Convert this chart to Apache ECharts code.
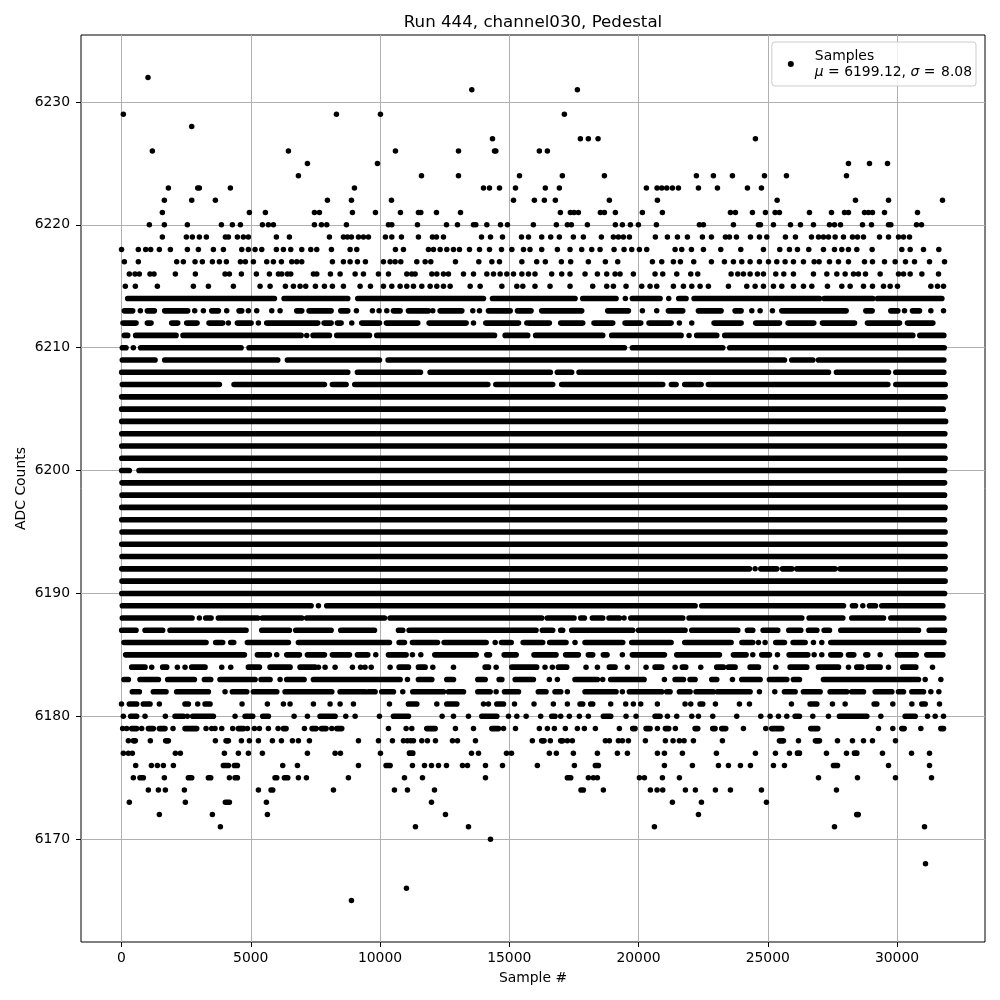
<!DOCTYPE html>
<html><head><meta charset="utf-8">
<style>html,body{margin:0;padding:0;background:#fff}#c{width:1000px;height:1000px}</style>
<script src="https://cdn.jsdelivr.net/npm/echarts@6/dist/echarts.min.js"></script>
</head><body><div id="c"></div>
<script>
// Each level lists samples: a number is one dot, a pair is an unbroken run of dots.
const L6232=[1025];
const L6231=[13551,17635];
const L6229=[71,8314,10017,17132];
const L6228=[2716];
const L6227=[14351,17751,18060,18435,24523];
const L6226=[1193,6457,10597,13036,14430,14480,16164,16474];
const L6225=[7192,9901,28122,28935,29632];
const L6224=[6844,11604,13036,15396,17054,18680,22240,22898,23633,24872,25723,28045];
const L6223=[1813,2948,3012,4212,9011,14003,14235,14622,15241,16396,16938,20305,20718,20899,21092,21311,21544,22318,23053,24214,24756];
const L6222=[1658,2716,3631,7966,8895,10443,15164,15971,16358,16783,18873,20731,25362,28393,29671,31760];
const L6221=[1580,4947,5566,7463,7656,8933,9823,10791,11487,11578,12184,13113,16977,17364,17506,17674,18525,18680,19105,20150,20924,23556,23749,24407,24910,25285,25452,26613,27465,27968,28122,28742,28897,29051,29516,30793];
const L6220=[1077,1658,2548,3864,4289,4599,5450,5682,5876,7463,7734,7940,8701,10327,10456,11449,12571,12997,13616,13706,14132,14661,14932,15932,16822,17248,17403,18022,19105,19376,19686,19996,20692,22356,22511,23672,24640,24717,25220,25878,26265,26768,27387,27581,27813,28664,29013,29671,29761,30754,30948];
const L6219=[1580,2509,2741,3012,3283,4018,4135,4483,4715,4908,5992,6495,8043,8585,8740,8895,9166,9359,9553,10210,10456,10830,11487,12029,12184,12455,13926,14274,14738,15474,15745,16255,16603,16938,17480,17867,18564,19028,19222,19415,19648,20653,21118,21505,21892,22472,22821,23362,23517,23788,24330,24678,24962,25684,26071,26691,26962,27155,27349,27607,27929,28277,28471,28703,29322,29671,30058,30251,30483];
const L6218=[1,651,935,1129,1464,1890,2548,2974,3554,3941,4651,4908,5167,5425,5992,6263,6547,6973,7321,7553,8121,8843,9101,10597,10907,11874,12068,12326,12584,12842,13074,13461,13848,14235,14700,15100,15551,15803,16255,16861,17351,17802,18190,18512,19054,19441,19738,20034,20318,21415,21672,22047,22511,23182,23956,24833,25465,25839,26149,26587,27155,27581,27864,28122,28445,29038,30186,30509,31025,31618];
const L6217=[110,651,2135,2393,2845,3128,3515,3786,4057,4599,4792,5102,5618,5876,6186,6585,6779,6973,8159,8585,8843,9127,9436,10133,10391,10585,10804,11423,11746,11965,12919,13822,14326,14622,15487,16061,16396,17016,17377,18060,18718,19196,20537,20899,21350,21621,22137,22821,23324,23672,23995,24317,24678,25027,25349,25671,25994,26381,26794,26987,27387,27736,28122,28742,29051,29516,29928,30328,30677,31257,31838];
const L6216=[303,522,690,1103,1258,2083,2857,4005,4173,4638,5218,5721,6070,6199,6418,6547,7424,7553,8082,8456,9037,9359,9940,10327,11036,11229,11358,12004,12197,12455,12648,13229,13616,14132,14390,14648,14906,15164,15487,15745,15996,16641,17029,17351,17932,18409,18770,19093,19286,19802,20640,20937,21479,22021,22292,23582,23840,24059,24317,24601,24833,25310,25620,25994,26768,27284,27671,27994,28316,28509,28780,29348,30058,30251,30509,30961,31606];
const L6215=[148,535,1387,2780,3361,4328,5360,5747,6340,6650,6908,7127,7501,7850,8159,8585,9230,9630,10133,10456,10778,11036,11294,11616,11939,12197,12455,12713,13487,13874,14713,15293,15525,15996,16577,17351,18228,18770,19028,19518,20124,20447,20705,21350,21737,22060,22382,22704,23479,24188,24511,24833,25220,25543,25994,26381,26704,27310,27864,28187,28703,29051,29477,29735,30019,31309,31567,31799];
const L6214=[[239,5915],[6289,8753],[9140,14003],[14351,17545],[17841,19131],19492,[19763,20834],21169,[21556,21840],[22150,27000],[27181,29064],[29245,31735]];
const L6213=[[110,432],729,[1000,1271],[1671,2561],2832,3167,[3490,3748],4070,[4548,4651],4908,5231,5812,6134,[6779,6973],[7256,8108],[8482,8753],9088,9707,9965,10262,[10520,10778],[11100,11875],12042,[12326,13165],13590,13848,[14196,15035],[15319,15842],[16255,17802],[18809,19608],20150,20705,[21157,21711],[22318,23195],[23736,23969],24382,24704,25181,[25543,28032],[28794,29038],[29761,30032],30290,[30599,30870],31309,31799];
const L6212=[[58,561],[1000,1142],[1942,2174],[2522,2922],[3386,3915],4135,[4483,5012],5296,[5618,7592],[7837,8108],[8353,8495],8907,[9295,9978],[10249,11461],[11900,13332],13616,[14093,15357],15680,[15764,16551],[16990,17841],[18280,19002],[19480,20086],[20408,21260],21582,22060,[22924,23969],[24536,25452],[25788,26780],[27116,28355],[28858,30096],[30406,31386]];
const L6211=[[110,239],[548,2109],[2380,6947],7166,[7411,8043],[8327,9591],[9875,14429],[14842,15713],[16022,18615],[18964,21647],21956,[22253,23027],[23337,30612],[30883,31812]];
const L6210=[[32,174],458,[742,4625],[4934,19454],[19763,23259],[23530,31825]];
const L6209=[[32,1297],[1671,6044],[6418,9978],[10314,25646],[25930,26742],[26962,31812]];
const L6208=[[6,8753],[9127,11565],[11939,16590],[16861,17415],[17699,27349],[27658,29671],[29954,31812]];
const L6207=[[32,3786],[4354,7850],[8159,8688],[9024,14171],[14480,16680],[17029,20937],[21273,21453],[21789,22421],[22704,29645],[29954,31863]];
const L6206=[[6,31863]];
const L6205=[[6,31786]];
const L6204=[[10,31880]];
const L6203=[[10,31850]];
const L6202=[[10,31840]];
const L6201=[[10,31860]];
const L6200=[[6,303],[677,31840]];
const L6199=[[20,31840]];
const L6198=[[20,31840]];
const L6197=[[10,31860]];
const L6196=[[10,31840]];
const L6195=[[20,31860]];
const L6194=[[10,31860]];
const L6193=[[20,31860]];
const L6192=[[10,24292],24511,[24730,25349],[25571,25930],[26123,27607],[27800,31863]];
const L6191=[[20,31860]];
const L6190=[[10,31840]];
const L6189=[[32,7334],7618,[7940,22189],[22447,27929],[28277,28393],28677,[28935,29167],[29412,31773]];
const L6188=[[32,2728],3012,[3257,3464],[3748,5270],[5450,6973],[7166,10172],[10391,16255],[16474,17506],[17764,17906],[18215,18615],[18860,19260],19441,[19699,21711],[21956,26317],[26600,27903],[28251,29477],[29761,31812]];
const L6187=[[6,561],[910,1593],[1877,4818],[5425,6495],[6740,8108],[8482,9785],[10714,10881],[11126,16035],[16280,16680],[16990,17067],[17415,19776],[20000,21800],[22060,23840],[24214,24420],[24820,25387],[25813,26278],[26575,26900],[27181,27387],[27825,30831],[31244,31838]];
const L6186=[[97,3270],[3644,3915],[4225,4341],[4870,6457],[6844,10365],[10739,10946],[11255,12223],[12481,14106],14455,[14700,15074],[15538,16293],[16564,17196],17544,[17931,19389],[19738,21260],[21789,23582],[24000,24420],24640,24898,[25310,25646],[25981,26446],26768,27090,[27439,31812]];
const L6185=[[161,4754],[5257,5721],6005,[6392,6882],[7192,7850],[8159,8817],[9127,9527],9836,[10326,11010],11255,11578,[12120,13719],[14132,14235],[14803,15267],[15958,16809],[17183,17674],[18060,18228],[18641,18783],19376,[19763,21002],[21479,23130],[23672,24162],24420,[24768,25065],25375,[25826,26549],26794,27090,[27439,27813],[28122,28329],[28794,28870],29348,[30019,30741],[31154,31773]];
const L6184=[[394,910],1168,[1593,1748],2161,2457,[2716,3231],3877,4225,[4908,5334],[5747,6521],[6908,7488],7618,7876,8263,8933,9250,9420,9660,10391,[10739,11100],[11487,11746],12042,12842,[14068,14197],14493,[15100,16061],16383,16667,[16900,17222],17970,18409,[18873,19093],19570,20292,[20640,20899],21415,[21698,21827],22408,[23027,23285],[23479,23736],[24317,24640],25310,[25865,26510],[26962,27736],28122,[28445,28639],[28897,29348],29671,[30225,30728],31373];
const L6183=[[97,265],[716,1426],[1787,2819],[3206,3451],[3812,5167],[5399,5747],6134,[6392,7063],[7424,10778],11062,[11487,12004],[12584,12842],[13784,14068],[14609,14713],[15229,15932],16551,16861,[17544,18409],18615,[18925,20215],21002,[21415,21737],[21995,22188],[22834,23027],23633,[23995,24704],[25065,25736],[25994,26226],[27155,30831],31090,31696];
const L6182=[[419,690],[1232,1722],[2135,3361],4005,[4289,4844],[5102,6005],[6328,8134],[8456,9424],[9553,9810],[10068,10520],10881,[11268,12455],[12648,13229],[13784,14261],14493,[14816,15357],[16125,16422],[16770,16990],17248,[17932,19131],19376,[19647,20899],[21092,21221],[21582,21995],[22227,22898],[23053,24317],24678,25272,[25646,26059],[26381,27026],[27413,28058],[28251,28703],[29155,29800],[30058,30251],[30574,31025],31309,31618];
const L6181=[0,[303,587],[845,1103],1464,[2457,2587],2948,[3232,3425],4663,5644,6263,6521,7424,8069,8456,8972,10365,[11100,11423],12197,[12584,12971],14003,14196,[14519,14777],15203,15958,16706,17248,[17738,17841],[18151,18228],18925,19505,19802,20086,20731,21800,22021,[22382,22485],22975,23904,24291,25917,[26639,26897],27503,27994,[29116,29219],29838,30574,[30961,31090],31644];
const L6180=[71,[355,587],910,1696,[2071,2393],2548,[2754,3554],4393,[4780,5076],[5463,5682],6676,7192,[7682,8263],8675,9037,9978,[10520,11100],12403,12842,13422,[13938,14519],14970,15293,15654,16216,[16642,16770],16990,17325,17712,18060,[18641,18925],19518,19905,[20640,20834],21118,21479,22060,22318,22872,23800,24730,25091,25414,25736,[26059,26226],26742,27348,[27774,28832],29374,[30316,30703],31180,31477,31799];
const L6179=[45,200,[393,587],780,[1040,1232],[1464,1683],1993,[2457,2909],3270,3490,3618,3877,4302,[4521,4715],4870,5140,5334,5682,6057,[6263,6366],7076,[7372,7527],[7734,7914],8134,[8327,8520],10327,11010,11229,[11810,12133],12919,13616,[14326,14584],14777,15241,16164,16474,16745,17170,17635,17906,18331,19260,[19776,19866],[20292,20447],20731,[21040,21169],21427,[22189,22292],[22872,22962],[23220,23375],24059,24923,[25155,25543],[26665,26936],29283,29838,[30186,30277],30922,[31696,31799]];
const L6178=[265,[458,535],1116,[1709,1813],3631,[4044,4135],4638,4947,5296,5837,6186,6611,6843,7269,9166,9940,10481,10907,11060,11190,11294,11616,11836,12145,12803,12997,13693,15893,[16254,16345],16590,[16990,17067],17248,17441,18718,18873,19222,19376,19609,20266,21040,21337,21582,21763,22124,23246,[25452,25607],26188,[26845,27000],27697,28277,28703,29051,29941];
const L6177=[71,265,419,2083,2277,3980,4521,4908,5450,7192,8263,8469,10017,[11139,11268],13539,13810,14893,15087,16551,16822,17480,18409,19183,19570,20731,21002,21698,23014,24523,25297,25839,[26149,26226],27271,28045,[28355,28445],29438,30561,31257];
const L6176=[548,1155,1387,1619,2006,[3941,4135],[4367,4483],6237,6805,9166,[10236,10391],11255,11720,11991,12262,12571,13190,13384,14080,14738,16087,17519,[18331,18448],21002,22085,23092,23479,23943,24330,25220,25646,[27542,27697],29671,31257];
const L6175=[458,[716,845],1658,[2587,2716],[3361,3451],4173,[4393,4483],[5940,6005],[6302,6431],6843,7153,8778,10946,11642,14080,[17248,17377],18060,18254,18409,20034,20228,20924,21582,26962,28471,29941,31335];
const L6174=[1038,1426,1696,2432,5296,[5786,5850],8198,10559,11062,12107,[17777,17867],18641,20460,20718,20937,21814,22201,22975,23556,24756,27658];
const L6173=[303,2470,[4018,4173],5605,11991,21311,22434,24949];
const L6172=[1464,3515,5644,12532,22318,[28440,28500]];
const L6171=[3825,11371,13422,20615,27581,31064];
const L6170=[14274];
const L6168=[31102];
const L6166=[11023];
const L6165=[8895];

const levelValues=[6232,6231,6229,6228,6227,6226,6225,6224,6223,6222,6221,6220,6219,6218,6217,6216,6215,6214,6213,6212,6211,6210,6209,6208,6207,6206,6205,6204,6203,6202,6201,6200,6199,6198,6197,6196,6195,6194,6193,6192,6191,6190,6189,6188,6187,6186,6185,6184,6183,6182,6181,6180,6179,6178,6177,6176,6175,6174,6173,6172,6171,6170,6168,6166,6165];
const levelSamples=[L6232,L6231,L6229,L6228,L6227,L6226,L6225,L6224,L6223,L6222,L6221,L6220,L6219,L6218,L6217,L6216,L6215,L6214,L6213,L6212,L6211,L6210,L6209,L6208,L6207,L6206,L6205,L6204,L6203,L6202,L6201,L6200,L6199,L6198,L6197,L6196,L6195,L6194,L6193,L6192,L6191,L6190,L6189,L6188,L6187,L6186,L6185,L6184,L6183,L6182,L6181,L6180,L6179,L6178,L6177,L6176,L6175,L6174,L6173,L6172,L6171,L6170,L6168,L6166,L6165];
const xTicks=[0,5000,10000,15000,20000,25000,30000];
const yTicks=[6170,6180,6190,6200,6210,6220,6230];
const titleText='Run 444, channel030, Pedestal';
const xName='Sample #';
const yName='ADC Counts';

const dots=[],runs=[];
levelValues.forEach((y,i)=>{
  levelSamples[i].forEach(s=>{
    if(Array.isArray(s)){runs.push([s[0],y],[s[1],y],[null,null]);}
    else dots.push([s,y]);
  });
});
const font='"DejaVu Sans"';
const chart=echarts.init(document.getElementById('c'),null,{renderer:'canvas'});
chart.setOption({
  animation:false,
  backgroundColor:'#fff',
  textStyle:{fontFamily:font},
  title:{text:titleText,left:528,top:9,textAlign:'center',textStyle:{fontFamily:font,fontSize:16.67,fontWeight:'normal',color:'#000'}},
  grid:{left:81,right:15,top:35,bottom:58,show:true,borderColor:'#000',borderWidth:1,backgroundColor:'transparent'},
  legend:{
    data:['Samples'],right:24,top:42,padding:[7,4,7,16],
    itemWidth:38,itemHeight:6,itemGap:0,icon:'circle',
    backgroundColor:'rgba(255,255,255,0.8)',borderColor:'#ccc',borderWidth:1,borderRadius:3,
    formatter:()=>'{a|Samples}\n{i|μ}{a| = 6199.12, }{i|σ}{a| =\u200A 8.08}',
    textStyle:{rich:{
      a:{fontFamily:font,fontSize:13.9,color:'#000',lineHeight:16},
      i:{fontFamily:font,fontSize:13.9,fontStyle:'italic',color:'#000',lineHeight:16}
    }}
  },
  xAxis:{type:'value',min:-1567,max:33404,name:xName,nameLocation:'middle',nameGap:29.5,nameMoveOverlap:false,
    nameTextStyle:{fontFamily:font,fontSize:13.9,color:'#000'},
    axisLine:{show:false,onZero:false},
    axisTick:{show:true,length:5,lineStyle:{color:'#000'},customValues:xTicks},
    axisLabel:{color:'#000',fontFamily:font,fontSize:13.9,margin:9,customValues:xTicks,formatter:v=>String(v)},
    splitLine:{show:true,lineStyle:{color:'#b0b0b0',width:1}}},
  yAxis:{type:'value',min:6161.63,max:6235.45,name:yName,nameLocation:'middle',nameGap:53,nameMoveOverlap:false,
    nameTextStyle:{fontFamily:font,fontSize:13.9,color:'#000'},
    axisLine:{show:false,onZero:false},
    axisTick:{show:true,length:5,lineStyle:{color:'#000'},customValues:yTicks},
    axisLabel:{color:'#000',fontFamily:font,fontSize:13.9,margin:11,customValues:yTicks,formatter:v=>String(v)},
    splitLine:{show:true,lineStyle:{color:'#b0b0b0',width:1}}},
  series:[
    {name:'Sample runs',type:'line',data:runs,showSymbol:false,symbol:'none',silent:true,connectNulls:false,
     lineStyle:{color:'#000',width:5.6,cap:'round',join:'round'},z:3},
    {name:'Samples',type:'scatter',data:dots,symbol:'circle',symbolSize:5.5,silent:true,
     itemStyle:{color:'#000',opacity:1},z:3}
  ]
});
</script></body></html>
